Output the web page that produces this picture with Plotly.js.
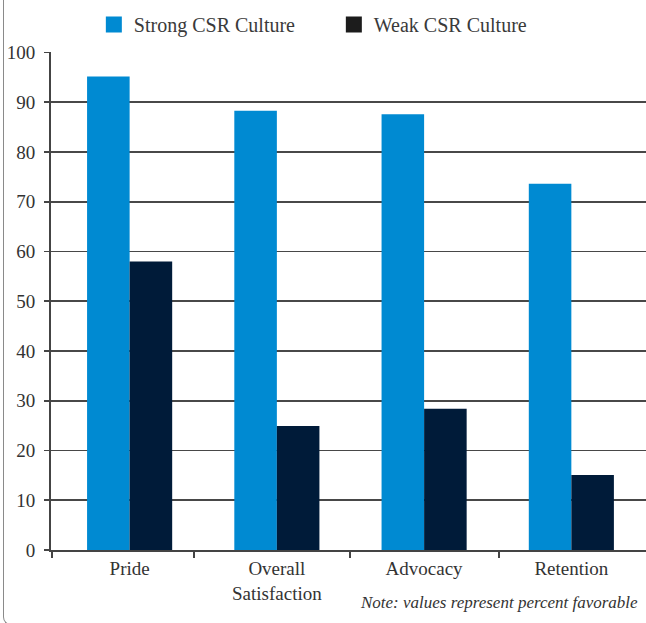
<!DOCTYPE html>
<html>
<head>
<meta charset="utf-8">
<script src="https://cdn.plot.ly/plotly-3.0.1.min.js"></script>
<style>
  html, body { margin: 0; padding: 0; background: #fff; }
  #wrap { position: relative; width: 646px; height: 623px; overflow: hidden; }
  #frame { position: absolute; left: 3px; top: -20px; width: 700px; height: 645px;
           border-left: 1px solid #8a8a8a; border-bottom: 1px solid #8a8a8a;
           border-bottom-left-radius: 8px; box-sizing: border-box; pointer-events: none; }
  #chart { position: absolute; left: 0; top: 0; width: 646px; height: 623px; }
</style>
</head>
<body>
<div id="wrap">
  <div id="chart"></div>
  <div id="frame"></div>
</div>
<script>
const categories = ["Pride", "Overall<br>Satisfaction", "Advocacy", "Retention"];
const strongCSR = [95.2, 88.3, 87.6, 73.6];
const weakCSR = [58.0, 24.9, 28.4, 15.1];
const seriesNames = ["Strong CSR Culture", "Weak CSR Culture"];
const yTicks = [0, 10, 20, 30, 40, 50, 60, 70, 80, 90, 100];
const noteText = "Note: values represent percent favorable";

const blue = "#008ad2";
const navy = "#001b39";
const axisGrey = "#444444";
const font = "Liberation Serif";

const traces = [
  { type: "bar", x: categories, y: strongCSR, name: seriesNames[0], marker: { color: blue }, showlegend: false, hoverinfo: "y" },
  { type: "bar", x: categories, y: weakCSR, name: seriesNames[1], marker: { color: navy }, showlegend: false, hoverinfo: "y" },
  { type: "scatter", mode: "markers", x: [null], y: [null], xaxis: "x2", name: seriesNames[0],
    marker: { symbol: "square", size: 16, color: blue } },
  { type: "scatter", mode: "markers", x: [null], y: [null], xaxis: "x2", name: seriesNames[1],
    marker: { symbol: "square", size: 16, color: "#1c1c1c" } }
];

const xRange = [-0.534, 3.507];

const layout = {
  width: 646, height: 623,
  margin: { l: 51, r: 0, t: 52, b: 73, pad: 0 },
  paper_bgcolor: "#ffffff", plot_bgcolor: "#ffffff",
  font: { family: font, color: "#333333", size: 19 },
  barmode: "group", bargap: 0.422, bargroupgap: 0,
  showlegend: true,
  legend: {
    orientation: "h", x: 0.072, xanchor: "left", y: 1.055, yanchor: "middle",
    font: { family: font, size: 20, color: "#3a3a3a" },
    entrywidth: 195, entrywidthmode: "pixels", bgcolor: "rgba(0,0,0,0)"
  },
  xaxis: {
    type: "category", range: xRange, showgrid: false, zeroline: false,
    showline: true, linecolor: axisGrey, linewidth: 2,
    ticks: "", tickfont: { family: font, size: 19, color: "#333" },
    fixedrange: true
  },
  xaxis2: {
    overlaying: "x", anchor: "y", type: "linear", range: xRange,
    tickmode: "array", tickvals: [-0.528, 0.44, 1.5, 2.51], showticklabels: false,
    ticks: "outside", ticklen: 7, tickwidth: 2, tickcolor: axisGrey,
    showgrid: false, zeroline: false, showline: false, fixedrange: true
  },
  yaxis: {
    range: [0, 100.1], tickmode: "array", tickvals: yTicks,
    showgrid: true, gridcolor: "#484848", gridwidth: 1.6,
    zeroline: false, showline: true, linecolor: axisGrey, linewidth: 2,
    ticks: "outside", ticklen: 5, tickwidth: 1.6, tickcolor: axisGrey,
    ticklabelstandoff: 5,
    tickfont: { family: font, size: 19, color: "#333" }, fixedrange: true
  },
  annotations: [{
    text: "<i>" + noteText + "</i>", xref: "paper", yref: "paper",
    x: 1, xanchor: "right", xshift: -6, y: -0.106, yanchor: "middle",
    showarrow: false, font: { family: font, size: 17, color: "#333" }
  }]
};

Plotly.newPlot("chart", traces, layout, { displayModeBar: false, staticPlot: true });
</script>
</body>
</html>
